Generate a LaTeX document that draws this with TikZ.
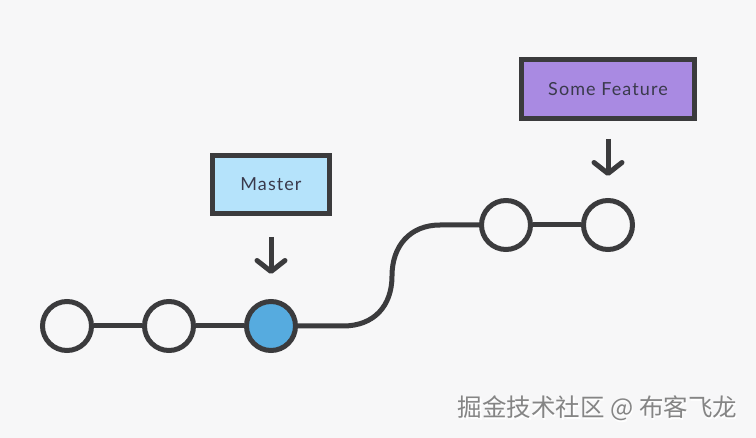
\documentclass[tikz,border=0pt]{standalone}
\usepackage{fontspec}
\setmainfont{Lato}
\newfontfamily\lblfont[LetterSpace=6]{Lato}
\newfontfamily\cjk{Noto Sans CJK SC}
\usetikzlibrary{arrows.meta}
\definecolor{bg}{HTML}{F7F7F8}
\definecolor{ink}{HTML}{3B3B3D}
\definecolor{masterfill}{HTML}{B5E3FB}
\definecolor{featfill}{HTML}{A98AE2}
\definecolor{headfill}{HTML}{56ABDF}
\definecolor{txt}{HTML}{3A3A4C}
\definecolor{mark}{HTML}{858585}
\tikzset{
  commit/.style={circle, draw=ink, line width=5pt, minimum size=49pt, inner sep=0pt, fill=bg},
  branchbox/.style={draw=ink, line width=5pt, inner sep=0pt, text=txt, font=\lblfont\fontsize{18}{21}\selectfont},
  link/.style={draw=ink, line width=5pt},
  pointer/.style={draw=ink, line width=5pt, -{Straight Barb[length=11pt,width=28pt,round]}}
}
\begin{document}
\begin{tikzpicture}[x=1pt,y=-1pt]
\fill[bg] (0,0) rectangle (756,438);
\useasboundingbox (0,0) rectangle (756,438);
% commits
\node[commit] (c1) at (67,326) {};
\node[commit] (c2) at (169,326) {};
\node[commit, fill=headfill] (c3) at (271,326) {};
\node[commit] (c4) at (506,225) {};
\node[commit] (c5) at (608,225) {};
% connectors
\draw[link] (c1) -- (c2);
\draw[link] (c2) -- (c3);
\draw[link] (c3.east) -- (343,326) .. controls (374,326) and (392,306) .. (392,276)
  .. controls (392,246) and (410,225) .. (440,225) -- (c4.west);
\draw[link] (c4) -- (c5);
% branch labels
\node[branchbox, fill=masterfill, minimum width=117pt, minimum height=58pt] (master) at (271,184.5) {Master};
\node[branchbox, fill=featfill, minimum width=173pt, minimum height=59pt] (feature) at (608,89) {Some Feature};
% pointers
\draw[pointer, shorten <=21pt, shorten >=25pt] (master.south) -- (c3.north);
\draw[pointer, shorten <=18pt, shorten >=22pt] (feature.south) -- (c5.north);
% watermark
\node[text=white, font=\cjk\fontsize{24.5}{28}\selectfont] at (598.8,409.8) {掘金技术社区 @ 布客飞龙};
\node[text=mark, font=\cjk\fontsize{24.5}{28}\selectfont] (wm) at (597.5,408.5) {掘金技术社区 @ 布客飞龙};
\end{tikzpicture}
\end{document}
